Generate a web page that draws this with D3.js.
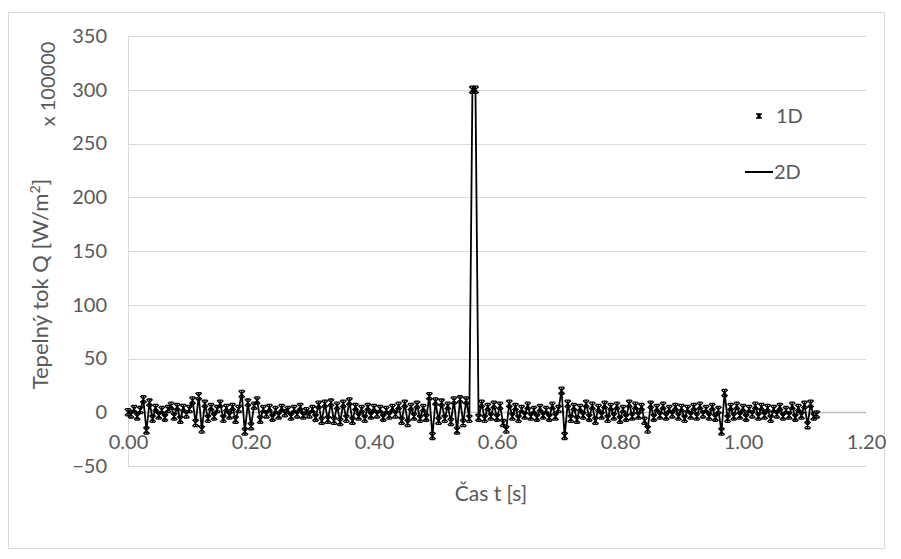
<!DOCTYPE html>
<html>
<head>
<meta charset="utf-8">
<script src="https://cdn.jsdelivr.net/npm/d3@7"></script>
<style>
  body { margin: 0; background: #fff; }
  svg { display: block; }
  text { font-family: Lato, "Open Sans", sans-serif; fill: #595959; }
</style>
</head>
<body>
<svg id="chart" width="901" height="559"></svg>
<script>
// ---- data ----
const timeStep = 0.005; // s, sampling step of the series
const q1D = [
  0, -2, 3, -4, 2, 12, -17, 9, -6, 4, -3, 2, -5, 3, 6, -4, 5, -7, 4, -2,
  3, 11, -10, 15, -16, 8, -6, 5, -4, 3, 8, -6, 4, -3, 5, -7, 3, 17, -18, 9,
  -13, 6, 11, -7, 3, -2, 4, -5, 2, -3, 4, -1, 2, -4, 3, -2, 5, -3, 1, -2,
  3, -5, 7, -8, 8, -7, 9, -8, 6, -9, 8, -6, 10, -8, 5, -4, 3, -6, 5, -3,
  4, -2, 3, -5, 2, -3, 4, -2, 6, -8, 8, -10, 5, -4, 7, -6, 4, -5, 15, -22,
  10, -8, 9, -6, 6, -9, 11, -17, 12, -10, 11, -6, 300, 300, -5, 8, -6, 5, -4, 7,
  -5, 6, -10, -16, 8, -4, 5, -6, 3, -3, 6, -4, 2, -5, 4, -3, 2, -5, 6, -4,
  3, 20, -22, 8, -6, 5, -7, 4, -3, 8, -5, 6, -8, 4, -3, 7, -6, 5, -4, 6,
  -7, 3, -5, 8, -4, 6, -3, 5, -8, -16, 7, -5, 4, -3, 6, -4, 3, -2, 5, -4,
  4, -6, 3, -3, 5, -4, 6, -2, 3, -4, 5, -5, 2, -18, 18, -6, 5, -4, 6, -3,
  4, -5, 3, -2, 6, -4, 5, -3, 4, -6, 3, -2, 5, -4, 2, -3, 6, -5, 4, -3, 7, -12, 8, -4, -2
];
const q2D = q1D.slice();
const seriesNames = ["1D", "2D"];
const xTicks = [0, 0.2, 0.4, 0.6, 0.8, 1.0, 1.2];
const yTicks = [-50, 0, 50, 100, 150, 200, 250, 300, 350];
const xTitle = "Čas t [s]";
const yTitle = "Tepelný tok Q [W/m";
const yUnitNote = "x 100000";

// ---- layout ----
const svg = d3.select("#chart");
const plot = { left: 128, right: 866, top: 36, bottom: 466 };

const x = d3.scaleLinear().domain([0, 1.2]).range([plot.left, plot.right]);
const y = d3.scaleLinear().domain([-50, 350]).range([plot.bottom, plot.top]);

// outer border
svg.append("rect")
  .attr("x", 8.5).attr("y", 12.5).attr("width", 876).attr("height", 536)
  .attr("fill", "#fff").attr("stroke", "#d9d9d9").attr("stroke-width", 1);

// gridlines
svg.append("g").selectAll("line").data(yTicks.filter(v => v !== 0)).join("line")
  .attr("x1", plot.left).attr("x2", plot.right)
  .attr("y1", d => Math.round(y(d)) + 0.5).attr("y2", d => Math.round(y(d)) + 0.5)
  .attr("stroke", "#d9d9d9").attr("stroke-width", 1);

// vertical axis line
svg.append("line")
  .attr("x1", plot.left + 0.5).attr("x2", plot.left + 0.5)
  .attr("y1", plot.top).attr("y2", plot.bottom)
  .attr("stroke", "#d9d9d9");

// horizontal axis at zero
svg.append("line")
  .attr("x1", plot.left).attr("x2", plot.right)
  .attr("y1", Math.round(y(0)) + 0.5).attr("y2", Math.round(y(0)) + 0.5)
  .attr("stroke", "#bfbfbf").attr("stroke-width", 1.3);

// y tick labels
const yAxis = d3.axisLeft(y).tickValues(yTicks).tickSize(0).tickPadding(0)
  .tickFormat(d3.format("d"));
const gy = svg.append("g").attr("transform", `translate(${plot.left - 21},0)`).call(yAxis);
gy.select(".domain").remove();
gy.selectAll("text").style("font-size", "20px").attr("fill", "#595959")
  .style("font-family", "Lato, sans-serif");

// x tick labels (below zero line)
const xAxis = d3.axisBottom(x).tickValues(xTicks).tickSize(0).tickPadding(0)
  .tickFormat(d3.format(".2f"));
const gx = svg.append("g").attr("transform", `translate(0,${Math.round(y(0)) + 23})`).call(xAxis);
gx.select(".domain").remove();
gx.selectAll("text").style("font-size", "20px").attr("fill", "#595959")
  .style("font-family", "Lato, sans-serif");

// data points
const pts1 = q1D.map((v, i) => [i * timeStep, v]);
const pts2 = q2D.map((v, i) => [i * timeStep, v]);

// 2D line
const line = d3.line().x(d => x(d[0])).y(d => y(d[1]));
svg.append("path").datum(pts2)
  .attr("d", line).attr("fill", "none")
  .attr("stroke", "#000").attr("stroke-width", 1.8).attr("stroke-linejoin", "round");

// 1D star markers
const starPath = "M-3.2,-3.2L3.2,3.2M-3.2,3.2L3.2,-3.2M0,-3.6L0,3.6M-2.4,-3.6L2.4,-3.6M-2.4,3.6L2.4,3.6";
svg.append("g").selectAll("path").data(pts1).join("path")
  .attr("transform", d => `translate(${x(d[0])},${y(d[1])})`)
  .attr("d", starPath).attr("fill", "none")
  .attr("stroke", "#000").attr("stroke-width", 1.3);

// legend
const lg = svg.append("g");
lg.append("path").attr("transform", "translate(759,116)")
  .attr("d", "M-2.6,-2.6L2.6,2.6M-2.6,2.6L2.6,-2.6M0,-3L0,3")
  .attr("fill", "none").attr("stroke", "#000").attr("stroke-width", 1.6);
lg.append("text").attr("x", 776).attr("y", 123).style("font-size", "20px").text(seriesNames[0]);
lg.append("line").attr("x1", 745).attr("x2", 773).attr("y1", 172).attr("y2", 172)
  .attr("stroke", "#000").attr("stroke-width", 2);
lg.append("text").attr("x", 774).attr("y", 179).style("font-size", "20px").text(seriesNames[1]);

// axis titles
svg.append("text").attr("x", 491).attr("y", 501).attr("text-anchor", "middle")
  .style("font-size", "21px").text(xTitle);

const yt = svg.append("text")
  .attr("transform", "translate(48,284) rotate(-90)")
  .attr("text-anchor", "middle").style("font-size", "22px");
yt.append("tspan").text(yTitle);
yt.append("tspan").attr("dy", -8).style("font-size", "14px").text("2");
yt.append("tspan").attr("dy", 8).text("]");

svg.append("text")
  .attr("transform", "translate(55,84) rotate(-90)")
  .attr("text-anchor", "middle").style("font-size", "20px").text(yUnitNote);
</script>
</body>
</html>
